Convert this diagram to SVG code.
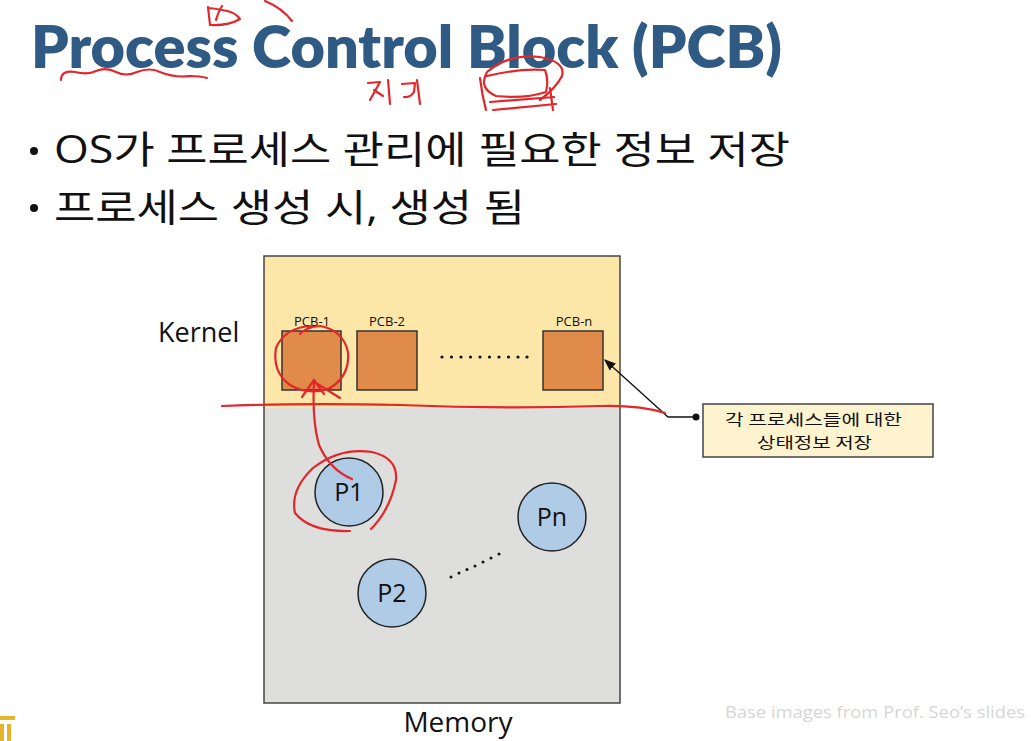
<svg xmlns="http://www.w3.org/2000/svg" width="1031" height="741" viewBox="0 0 1031 741">
  <defs>
    <style>
      .title { font-family: Lato, "Open Sans", sans-serif; font-weight: 800; font-size: 59px; fill: #2F5A84; }
      .bullet { font-family: "Open Sans", "Noto Sans CJK KR", sans-serif; font-size: 38px; fill: #111; }
      .lbl { font-family: "Open Sans", "Liberation Sans", sans-serif; fill: #111; }
      .kr { font-family: "Noto Sans CJK KR", sans-serif; fill: #111; }
      .pcb { fill: #E08B49; stroke: #333; stroke-width: 1.5; }
      .proc { fill: #AFCBE6; stroke: #222; stroke-width: 1.5; }
      .ink { fill: none; stroke: #E3262A; stroke-width: 2.2; stroke-linecap: round; stroke-linejoin: round; }
      .dot { fill: #111; }
    </style>
    <marker id="arrow" viewBox="0 0 10 10" refX="9" refY="5" markerWidth="9" markerHeight="9" orient="auto-start-reverse">
      <path d="M0,1 L10,5 L0,9 z" fill="#111"/>
    </marker>
  </defs>

  <rect width="1031" height="741" fill="#fff"/>

  <!-- heading -->
  <text class="title" x="31" y="68" textLength="751" lengthAdjust="spacingAndGlyphs">Process Control Block (PCB)</text>

  <!-- bullet list -->
  <g id="bullets">
    <circle cx="34" cy="151" r="4" fill="#111"/>
    <text class="bullet" x="54" y="163" textLength="736" lengthAdjust="spacingAndGlyphs">OS가 프로세스 관리에 필요한 정보 저장</text>
    <circle cx="34" cy="208" r="4" fill="#111"/>
    <text class="bullet" x="54" y="221" textLength="471" lengthAdjust="spacingAndGlyphs">프로세스 생성 시, 생성 됨</text>
  </g>

  <!-- memory layout: kernel area on top, user area below -->
  <g id="memory">
    <rect x="264" y="256" width="356" height="152" fill="#FCE7A8"/>
    <rect x="264" y="408" width="356" height="295" fill="#DEDEDC"/>
    <rect x="264" y="256" width="356" height="447" fill="none" stroke="#444" stroke-width="1.5"/>
    <text class="lbl" x="458" y="732" font-size="28" text-anchor="middle">Memory</text>
  </g>

  <g id="kernel-label">
    <text class="lbl" x="158" y="342" font-size="27">Kernel</text>
  </g>

  <g id="pcb-1">
    <rect class="pcb" x="282" y="331" width="59" height="59"/>
    <text class="lbl" x="312" y="326" font-size="13" text-anchor="middle">PCB-1</text>
  </g>
  <g id="pcb-2">
    <rect class="pcb" x="357" y="331" width="60" height="59"/>
    <text class="lbl" x="387" y="326" font-size="13" text-anchor="middle">PCB-2</text>
  </g>
  <g id="pcb-dots">
    <circle class="dot" cx="442" cy="357" r="1.6"/>
    <circle class="dot" cx="451.5" cy="357" r="1.6"/>
    <circle class="dot" cx="461" cy="357" r="1.6"/>
    <circle class="dot" cx="470.5" cy="357" r="1.6"/>
    <circle class="dot" cx="480" cy="357" r="1.6"/>
    <circle class="dot" cx="489.5" cy="357" r="1.6"/>
    <circle class="dot" cx="499" cy="357" r="1.6"/>
    <circle class="dot" cx="508.5" cy="357" r="1.6"/>
    <circle class="dot" cx="518" cy="357" r="1.6"/>
    <circle class="dot" cx="527" cy="357" r="1.6"/>
  </g>
  <g id="pcb-n">
    <rect class="pcb" x="543" y="331" width="60" height="59"/>
    <text class="lbl" x="574" y="326" font-size="13" text-anchor="middle">PCB-n</text>
  </g>

  <g id="p1">
    <circle class="proc" cx="349" cy="492" r="34"/>
    <text class="lbl" x="349" y="501" font-size="25" text-anchor="middle">P1</text>
  </g>
  <g id="p2">
    <circle class="proc" cx="392" cy="593" r="34"/>
    <text class="lbl" x="392" y="602" font-size="25" text-anchor="middle">P2</text>
  </g>
  <g id="pn">
    <circle class="proc" cx="552" cy="517" r="34"/>
    <text class="lbl" x="552" y="526" font-size="25" text-anchor="middle">Pn</text>
  </g>
  <g id="proc-dots">
    <circle class="dot" cx="451" cy="577" r="1.5"/>
    <circle class="dot" cx="459" cy="573" r="1.5"/>
    <circle class="dot" cx="467" cy="569.5" r="1.5"/>
    <circle class="dot" cx="475" cy="566" r="1.5"/>
    <circle class="dot" cx="483" cy="562" r="1.5"/>
    <circle class="dot" cx="491" cy="558" r="1.5"/>
    <circle class="dot" cx="499" cy="554" r="1.5"/>
  </g>

  <g id="callout">
    <rect x="703" y="404" width="230" height="53" fill="#FDF3CF" stroke="#444" stroke-width="1.5"/>
    <text class="kr" x="725" y="425" font-size="15" textLength="177" lengthAdjust="spacingAndGlyphs">각 프로세스들에 대한</text>
    <text class="kr" x="757" y="448" font-size="15" textLength="115" lengthAdjust="spacingAndGlyphs">상태정보 저장</text>
  </g>

  <!-- connectors -->
  <g id="connectors">
    <path d="M696,417 L668,417 L605,360" fill="none" stroke="#111" stroke-width="1.3" marker-end="url(#arrow)"/>
    <circle cx="696" cy="417" r="3.5" fill="#111"/>
  </g>

  <!-- source note -->
  <text x="725" y="718" font-family="Open Sans, Liberation Sans, sans-serif" font-size="17" fill="#D6D6D6" textLength="300" lengthAdjust="spacingAndGlyphs">Base images from Prof. Seo’s slides</text>

  <!-- corner logo fragment -->
  <g id="logo" fill="#E7B52C">
    <rect x="0" y="716" width="15" height="4"/>
    <rect x="0" y="724" width="4" height="17"/>
    <rect x="7" y="724" width="4" height="17"/>
  </g>

  <!-- red pen annotations -->
  <g id="ink">
    <path class="ink" d="M208,7 L210,25 Q228,26 240,19 Q236,12 222,10 Q212,8 208,8 M216,20 Q218,12 222,6"/>
    <path class="ink" d="M265,1 Q282,8 292,21"/>
    <path class="ink" d="M61,80 Q61,70 75,72 Q88,75 96,71 Q106,67 116,72 Q126,77 137,72 Q150,67 160,72 Q175,78 190,76 Q200,76 207,78"/>
    <path class="ink" d="M368,83 L380,82 L370,100 M374,90 L383,96 M388,80 L390,104 M402,84 L415,83 L414,92 Q410,98 404,97 M417,80 L420,104"/>
    <path class="ink" d="M480,78 Q482,95 486,110"/>
    <path class="ink" d="M487,76 Q520,68 545,70 Q549,80 546,92 Q525,99 496,96 Q478,88 487,72 Q510,53 540,57 Q566,62 562,76 Q556,88 540,100"/>
    <path class="ink" d="M490,102 L554,97 M493,110 L556,104 M550,88 L553,110"/>
    <path class="ink" d="M222,406 Q300,403 400,405 Q500,409 600,406 Q640,405 665,413"/>
    <path class="ink" d="M312,326 Q285,327 276,348 Q272,372 290,385 Q310,396 330,388 Q350,376 348,352 Q343,330 320,326 Q306,327 300,334"/>
    <path class="ink" d="M352,479 Q330,470 319,445 Q312,420 314,382"/>
    <path class="ink" d="M302,397 L314,380 L324,394 M316,383 L340,398"/>
    <path class="ink" d="M371,529 Q390,510 396,480 Q398,458 372,452 Q340,447 313,468 Q290,490 295,513 Q310,532 350,531"/>
  </g>
</svg>
